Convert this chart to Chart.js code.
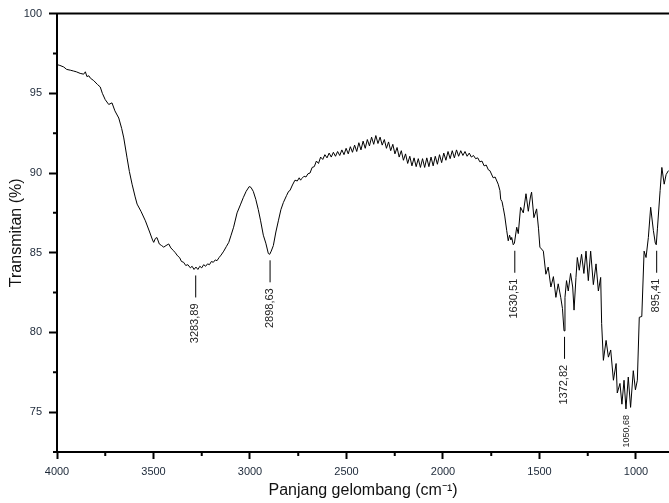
<!DOCTYPE html>
<html>
<head>
<meta charset="utf-8">
<script src="https://cdn.jsdelivr.net/npm/chart.js@4.4.0/dist/chart.umd.min.js"></script>
<style>
  html, body { margin: 0; padding: 0; background: #fff; overflow: hidden; }
  #wrap { width: 669px; height: 503px; }
</style>
</head>
<body>
<div id="wrap"><canvas id="ftir-chart"></canvas></div>
<script>
// spectrum (wavenumber in cm-1, transmittance in %)
const waveNumbers = [
    4000, 3985, 3965, 3950, 3931, 3915, 3900, 3880, 3862, 3853, 3845, 3835, 3827, 3810, 3790, 3776,
    3765, 3750, 3732, 3715, 3700, 3680, 3665, 3654, 3637, 3625, 3611, 3595, 3585, 3565, 3542, 3520,
    3505, 3499, 3490, 3482, 3470, 3458, 3447, 3435, 3421, 3410, 3398, 3387, 3375, 3365, 3355, 3344,
    3333, 3322, 3309, 3300, 3290, 3280, 3270, 3260, 3250, 3240, 3230, 3220, 3210, 3200, 3190, 3180,
    3171, 3160, 3150, 3136, 3122, 3110, 3098, 3085, 3067, 3050, 3035, 3020, 3004, 2995, 2983, 2970,
    2957, 2945, 2931, 2918, 2905, 2898, 2890, 2879, 2866, 2853, 2840, 2827, 2810, 2800, 2793, 2780,
    2767, 2755, 2745, 2738, 2732, 2720, 2710,
    2700, 2689, 2678, 2667, 2656, 2645, 2634, 2623, 2612, 2601, 2590, 2579, 2568, 2557, 2546, 2535,
    2524, 2513, 2502, 2491, 2480, 2469, 2458, 2447, 2436, 2425, 2414, 2403, 2392, 2381, 2370, 2359,
    2348, 2337, 2326, 2315, 2304, 2293, 2282, 2271, 2260, 2249, 2238, 2227, 2216, 2205, 2194, 2183,
    2172, 2161, 2150, 2139, 2128, 2117, 2106, 2095, 2084, 2073, 2062, 2051, 2040, 2029, 2018, 2007,
    1996, 1985, 1974, 1963, 1952, 1941, 1930, 1919, 1908, 1897, 1886, 1875, 1864, 1853, 1842, 1831,
    1820, 1809, 1798, 1787, 1776, 1765, 1757, 1740, 1730, 1714, 1705, 1701, 1694, 1688, 1680, 1670,
    1662, 1655, 1648, 1644, 1636, 1630, 1618, 1610, 1598, 1584, 1570, 1558, 1547, 1541, 1529, 1515,
    1505, 1498, 1480, 1467, 1455, 1441, 1428, 1415, 1403, 1390, 1381, 1373, 1368, 1360, 1351, 1339,
    1328, 1321, 1311, 1304, 1294, 1282, 1270, 1259, 1247, 1235, 1221, 1207, 1195, 1183, 1178, 1169,
    1155, 1143, 1131, 1117, 1103, 1097, 1083, 1073, 1062, 1052, 1040, 1028, 1014, 1003, 993, 983,
    970, 958, 948, 936, 924, 910, 900, 895, 889, 875, 866, 854, 844, 832
];
const transmittance = [
    96.8, 96.75, 96.65, 96.5, 96.45, 96.4, 96.35, 96.25, 96.2, 96.35, 96.05, 96.1, 95.95, 95.8, 95.55, 95.4,
    95.0, 94.6, 94.3, 94.4, 93.9, 93.45, 92.8, 92.2, 90.95, 90.1, 89.3, 88.5, 88.05, 87.6, 87.0, 86.3,
    85.8, 85.65, 85.9, 85.95, 85.55, 85.45, 85.35, 85.45, 85.55, 85.3, 85.15, 85.0, 84.8, 84.7, 84.45, 84.4,
    84.2, 84.25, 84.05, 84.15, 83.95, 84.1, 83.95, 84.15, 84.05, 84.25, 84.15, 84.3, 84.25, 84.45, 84.4, 84.55,
    84.5, 84.7, 84.85, 85.1, 85.4, 85.65, 86.1, 86.6, 87.5, 88.0, 88.45, 88.85, 89.15, 89.1, 88.85, 88.35,
    87.7, 87.0, 86.1, 85.6, 84.95, 84.9, 85.1, 85.45, 86.3, 87.0, 87.7, 88.15, 88.6, 88.85, 88.9, 89.25,
    89.55, 89.5, 89.7, 89.55, 89.65, 89.8, 89.75,
    89.95, 90.0, 90.35, 90.4, 90.75, 90.6, 91.0, 90.85, 91.15, 90.95, 91.25, 91.0, 91.3, 91.05, 91.35, 91.1,
    91.45, 91.15, 91.55, 91.2, 91.65, 91.3, 91.75, 91.35, 91.9, 91.45, 92.0, 91.55, 92.1, 91.7, 92.25, 91.8,
    92.35, 91.85, 92.25, 91.75, 92.1, 91.55, 91.95, 91.4, 91.8, 91.2, 91.6, 91.0, 91.4, 90.8, 91.2, 90.6,
    91.05, 90.45, 90.95, 90.4, 90.9, 90.35, 90.9, 90.35, 90.95, 90.4, 91.0, 90.45, 91.05, 90.55, 91.15, 90.65,
    91.25, 90.8, 91.35, 90.9, 91.4, 90.95, 91.45, 91.05, 91.4, 91.1, 91.35, 91.05, 91.25, 91.0, 91.1, 90.9,
    90.95, 90.7, 90.75, 90.45, 90.5, 90.2, 90.15, 89.7, 89.75, 89.3, 88.9, 88.35, 88.2, 87.83, 87.3, 86.4,
    85.75, 86.1, 85.8, 85.96, 85.5, 85.6, 86.6, 86.2, 87.85, 87.5, 88.7, 87.6, 88.5, 88.8, 87.2, 87.75,
    86.5, 85.35, 85.1, 83.65, 84.1, 82.85, 83.5, 82.2, 83.05, 82.2, 81.5, 80.1, 82.2, 83.25, 82.6, 83.7,
    82.85, 81.4, 83.45, 84.7, 83.9, 84.9, 83.7, 85.1, 83.25, 85.1, 83.0, 84.3, 82.6, 83.45, 80.55, 78.25,
    79.5, 78.45, 78.9, 77.0, 78.05, 76.2, 76.8, 75.5, 77.0, 75.2, 77.2, 75.3, 77.6, 76.4, 77.0, 80.95,
    81.0, 85.1, 84.7, 85.95, 87.85, 86.4, 85.6, 85.5, 86.5, 88.9, 90.35, 89.3, 89.9, 90.15
];

const peakLabels = ['3283,89', '2898,63', '1630,51', '1372,82', '1050,68', '895,41'];
const peakPositions = [3283.89, 2898.63, 1630.51, 1372.82, 1050.68, 895.41];

const xTicks = [4000, 3750, 3500, 3250, 3000, 2750, 2500, 2250, 2000, 1750, 1500, 1250, 1000];
const yTicks = [72.5, 75, 77.5, 80, 82.5, 85, 87.5, 90, 92.5, 95, 97.5, 100];

const fontFamily = '"Liberation Sans", Arial, sans-serif';
const isMajorX = v => v % 500 === 0;
const isMajorY = v => v % 5 === 0;

// how each peak label is drawn
const peakMarks = [
    { size: 11, line: true },
    { size: 11, line: true },
    { size: 11, line: true },
    { size: 11, line: true },
    { size: 9, line: false },
    { size: 11, line: true },
];

const ftirExtras = {
    id: 'ftirExtras',
    afterDraw(chart) {
        const { ctx, chartArea, scales } = chart;
        const xs = scales.x, ys = scales.y;
        ctx.save();
        // top frame line
        ctx.strokeStyle = '#000';
        ctx.lineWidth = 2;
        ctx.beginPath();
        ctx.moveTo(chartArea.left - 1, chartArea.top);
        ctx.lineTo(chartArea.right, chartArea.top);
        ctx.stroke();
        // minor ticks
        ctx.beginPath();
        xTicks.filter(v => !isMajorX(v)).forEach(v => {
            const px = xs.getPixelForValue(v);
            ctx.moveTo(px, chartArea.bottom);
            ctx.lineTo(px, chartArea.bottom + 4);
        });
        yTicks.filter(v => !isMajorY(v)).forEach(v => {
            const py = ys.getPixelForValue(v);
            ctx.moveTo(chartArea.left, py);
            ctx.lineTo(chartArea.left - 4, py);
        });
        ctx.stroke();

        // peak annotations
        peakPositions.forEach((pos, i) => {
            let low = Infinity;
            waveNumbers.forEach((w, j) => {
                if (Math.abs(w - pos) <= 15) low = Math.min(low, transmittance[j]);
            });
            const px = xs.getPixelForValue(pos);
            let py = ys.getPixelForValue(low) + 6;
            const mark = peakMarks[i];
            if (mark.line) {
                ctx.strokeStyle = '#000';
                ctx.lineWidth = 1;
                ctx.beginPath();
                ctx.moveTo(px + 0.5, py);
                ctx.lineTo(px + 0.5, py + 22);
                ctx.stroke();
                py += 28;
            }
            ctx.save();
            ctx.translate(px, py);
            ctx.rotate(-Math.PI / 2);
            ctx.fillStyle = '#222';
            ctx.font = mark.size + 'px ' + fontFamily;
            ctx.textAlign = 'right';
            ctx.textBaseline = 'middle';
            ctx.fillText(peakLabels[i], 0, 0);
            ctx.restore();
        });
        ctx.restore();
    }
};

const ftirData = {
    datasets: [{
        data: waveNumbers.map((w, i) => ({ x: w, y: transmittance[i] })),
        borderColor: '#000',
        borderWidth: 1,
        pointRadius: 0,
        tension: 0,
        fill: false,
    }]
};

const ftirConfig = {
    type: 'line',
    data: ftirData,
    options: {
        responsive: true,
        maintainAspectRatio: false,
        animation: false,
        layout: { padding: { top: 12, right: 0, left: 0, bottom: 0 } },
        plugins: {
            legend: { display: false },
            tooltip: { enabled: false },
        },
        scales: {
            x: {
                type: 'linear',
                reverse: true,
                min: 829,
                max: 4000,
                afterBuildTicks: s => { s.ticks = xTicks.map(v => ({ value: v })); },
                afterFit: s => { s.height = 51; },
                ticks: {
                    autoSkip: false,
                    maxRotation: 0,
                    padding: 6,
                    color: '#1c2838',
                    font: { family: fontFamily, size: 11 },
                    callback: v => isMajorX(v) ? String(v) : '',
                },
                grid: {
                    drawOnChartArea: false,
                    tickLength: 7,
                    tickWidth: 2,
                    tickColor: c => (c.tick && isMajorX(c.tick.value)) ? '#000' : 'rgba(0,0,0,0)',
                },
                border: { display: true, color: '#000', width: 2 },
                title: {
                    display: true,
                    text: 'Panjang gelombang (cm⁻¹)',
                    color: '#111',
                    font: { family: fontFamily, size: 16 },
                    padding: { top: 0, bottom: 3 },
                },
            },
            y: {
                min: 72.5,
                max: 100,
                afterBuildTicks: s => { s.ticks = yTicks.map(v => ({ value: v })); },
                afterFit: s => { s.width = 57; },
                ticks: {
                    autoSkip: false,
                    padding: 7,
                    color: '#1c2838',
                    font: { family: fontFamily, size: 11 },
                    callback: v => isMajorY(v) ? String(v) : '',
                },
                grid: {
                    drawOnChartArea: false,
                    tickLength: 8,
                    tickWidth: 2,
                    tickColor: c => (c.tick && isMajorY(c.tick.value)) ? '#000' : 'rgba(0,0,0,0)',
                },
                border: { display: true, color: '#000', width: 2 },
                title: {
                    display: true,
                    text: 'Transmitan (%)',
                    color: '#111',
                    font: { family: fontFamily, size: 16 },
                    padding: { top: 7, bottom: 0 },
                },
            },
        },
    },
    plugins: [ftirExtras],
};

const ftirChart = new Chart(document.getElementById('ftir-chart'), ftirConfig);
</script>
</body>
</html>
